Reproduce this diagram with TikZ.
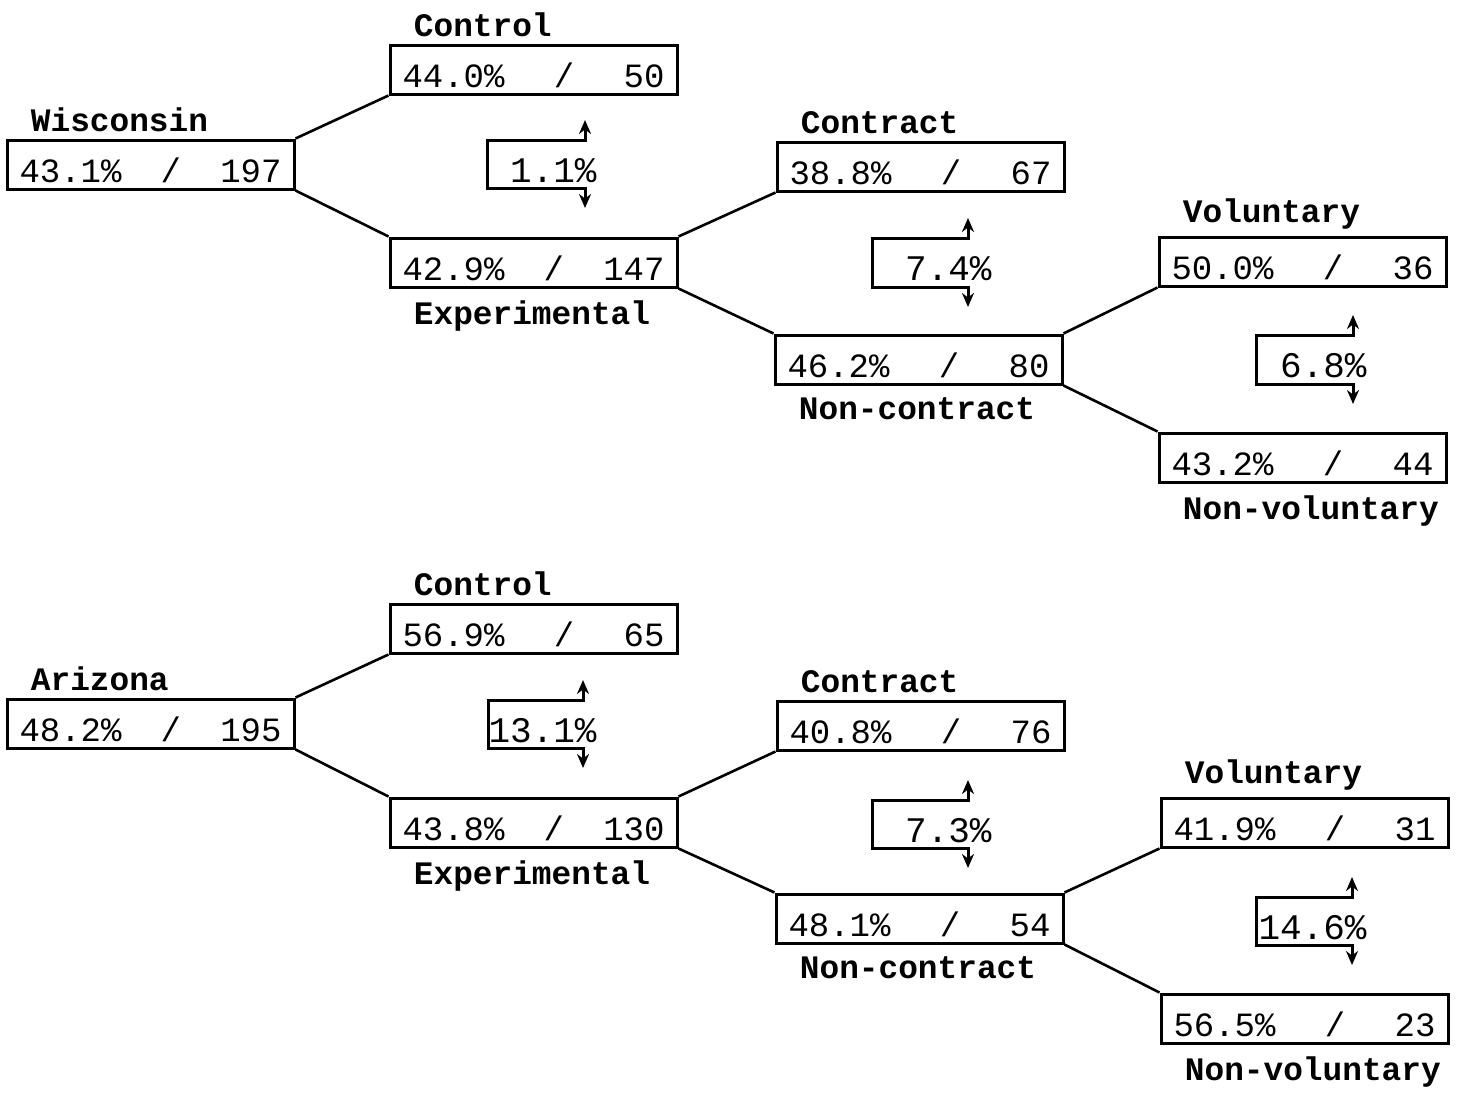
\documentclass[tikz,border=0pt]{standalone}
\usepackage{fontspec}
\setmonofont{Liberation Mono}
\usetikzlibrary{arrows.meta}

% text inside a cell: share, slash, count
\newcommand{\cellrow}[2]{\raisebox{-3pt}[\height][\depth]{\makebox[131pt]{#1\hfill/\hfill#2}}}

\begin{document}
\begin{tikzpicture}[x=0.5pt, y=-0.5pt,
        % Define the styles for the cells, branches and gaps
        cell/.style={draw, line width=1.5pt, minimum width=143.5pt, minimum height=24.5pt,
            inner sep=0pt, font=\ttfamily\fontsize{17}{17}\selectfont},
        tag/.style={font=\ttfamily\bfseries\fontsize{16.4}{18}\selectfont, inner sep=1pt},
        gap text/.style={font=\ttfamily\fontsize{18}{18}\selectfont, inner sep=1pt, anchor=east},
        above tag/.style={label={[tag, anchor=south west, xshift=11.5pt, yshift=2pt]north west:#1}},
        below tag/.style={label={[tag, anchor=north west, xshift=11.5pt, yshift=-5pt]south west:#1}},
        branch/.style={line width=1.3pt},
        gap/.style={line width=1.5pt, {Stealth[length=7pt,width=6pt]}-{Stealth[length=7pt,width=6pt]}}]

        \useasboundingbox (0,0) rectangle (1463,1094);

        % 1. Wisconsin tree
        \node[cell, above tag=Wisconsin] (wis) at (150.5,164.5) {\cellrow{43.1\%}{197}};
        \node[cell, above tag=Control] (wctl) at (533.5,69.5) {\cellrow{44.0\%}{50}};
        \node[cell, below tag=Experimental] (wexp) at (533.5,262.5) {\cellrow{42.9\%}{147}};
        \node[cell, above tag=Contract] (wcon) at (920.5,166.5) {\cellrow{38.8\%}{67}};
        \node[cell, below tag=Non-contract] (wnon) at (918.5,359.5) {\cellrow{46.2\%}{80}};
        \node[cell, above tag=Voluntary] (wvol) at (1302.5,261.5) {\cellrow{50.0\%}{36}};
        \node[cell, below tag=Non-voluntary] (wnvl) at (1302.5,457.5) {\cellrow{43.2\%}{44}};

        \draw[branch] (wis.north east) -- (wctl.south west);
        \draw[branch] (wis.south east) -- (wexp.north west);
        \draw[branch] (wexp.north east) -- (wcon.south west);
        \draw[branch] (wexp.south east) -- (wnon.north west);
        \draw[branch] (wnon.north east) -- (wvol.south west);
        \draw[branch] (wnon.south east) -- (wnvl.north west);

        % 2. Wisconsin gaps
        \draw[gap] (585,120) -- (585,140) -- (487,140) -- (487,188) -- (585,188) -- (585,208);
        \node[gap text] (wgap1) at (599,171) {1.1\%};
        \draw[gap] (968,218) -- (968,238) -- (872,238) -- (872,287) -- (968,287) -- (968,307);
        \node[gap text] (wgap2) at (994,269) {7.4\%};
        \draw[gap] (1353,315) -- (1353,335) -- (1256,335) -- (1256,384) -- (1353,384) -- (1353,404);
        \node[gap text] (wgap3) at (1369,366) {6.8\%};

        % 3. Arizona tree
        \node[cell, above tag=Arizona] (ari) at (150.5,723.5) {\cellrow{48.2\%}{195}};
        \node[cell, above tag=Control] (actl) at (533.5,628.5) {\cellrow{56.9\%}{65}};
        \node[cell, below tag=Experimental] (aexp) at (533.5,822.5) {\cellrow{43.8\%}{130}};
        \node[cell, above tag=Contract] (acon) at (920.5,725.5) {\cellrow{40.8\%}{76}};
        \node[cell, below tag=Non-contract] (anon) at (919.5,918.5) {\cellrow{48.1\%}{54}};
        \node[cell, above tag=Voluntary] (avol) at (1304.5,822.5) {\cellrow{41.9\%}{31}};
        \node[cell, below tag=Non-voluntary] (anvl) at (1304.5,1018.5) {\cellrow{56.5\%}{23}};

        \draw[branch] (ari.north east) -- (actl.south west);
        \draw[branch] (ari.south east) -- (aexp.north west);
        \draw[branch] (aexp.north east) -- (acon.south west);
        \draw[branch] (aexp.south east) -- (anon.north west);
        \draw[branch] (anon.north east) -- (avol.south west);
        \draw[branch] (anon.south east) -- (anvl.north west);

        % 4. Arizona gaps
        \draw[gap] (583,680) -- (583,700) -- (488,700) -- (488,748) -- (583,748) -- (583,768);
        \node[gap text] (agap1) at (599,731) {13.1\%};
        \draw[gap] (968,780) -- (968,800) -- (872,800) -- (872,848) -- (968,848) -- (968,868);
        \node[gap text] (agap2) at (994,831) {7.3\%};
        \draw[gap] (1352,877) -- (1352,897) -- (1256,897) -- (1256,945) -- (1352,945) -- (1352,965);
        \node[gap text] (agap3) at (1369,928) {14.6\%};

    \end{tikzpicture}
\end{document}
